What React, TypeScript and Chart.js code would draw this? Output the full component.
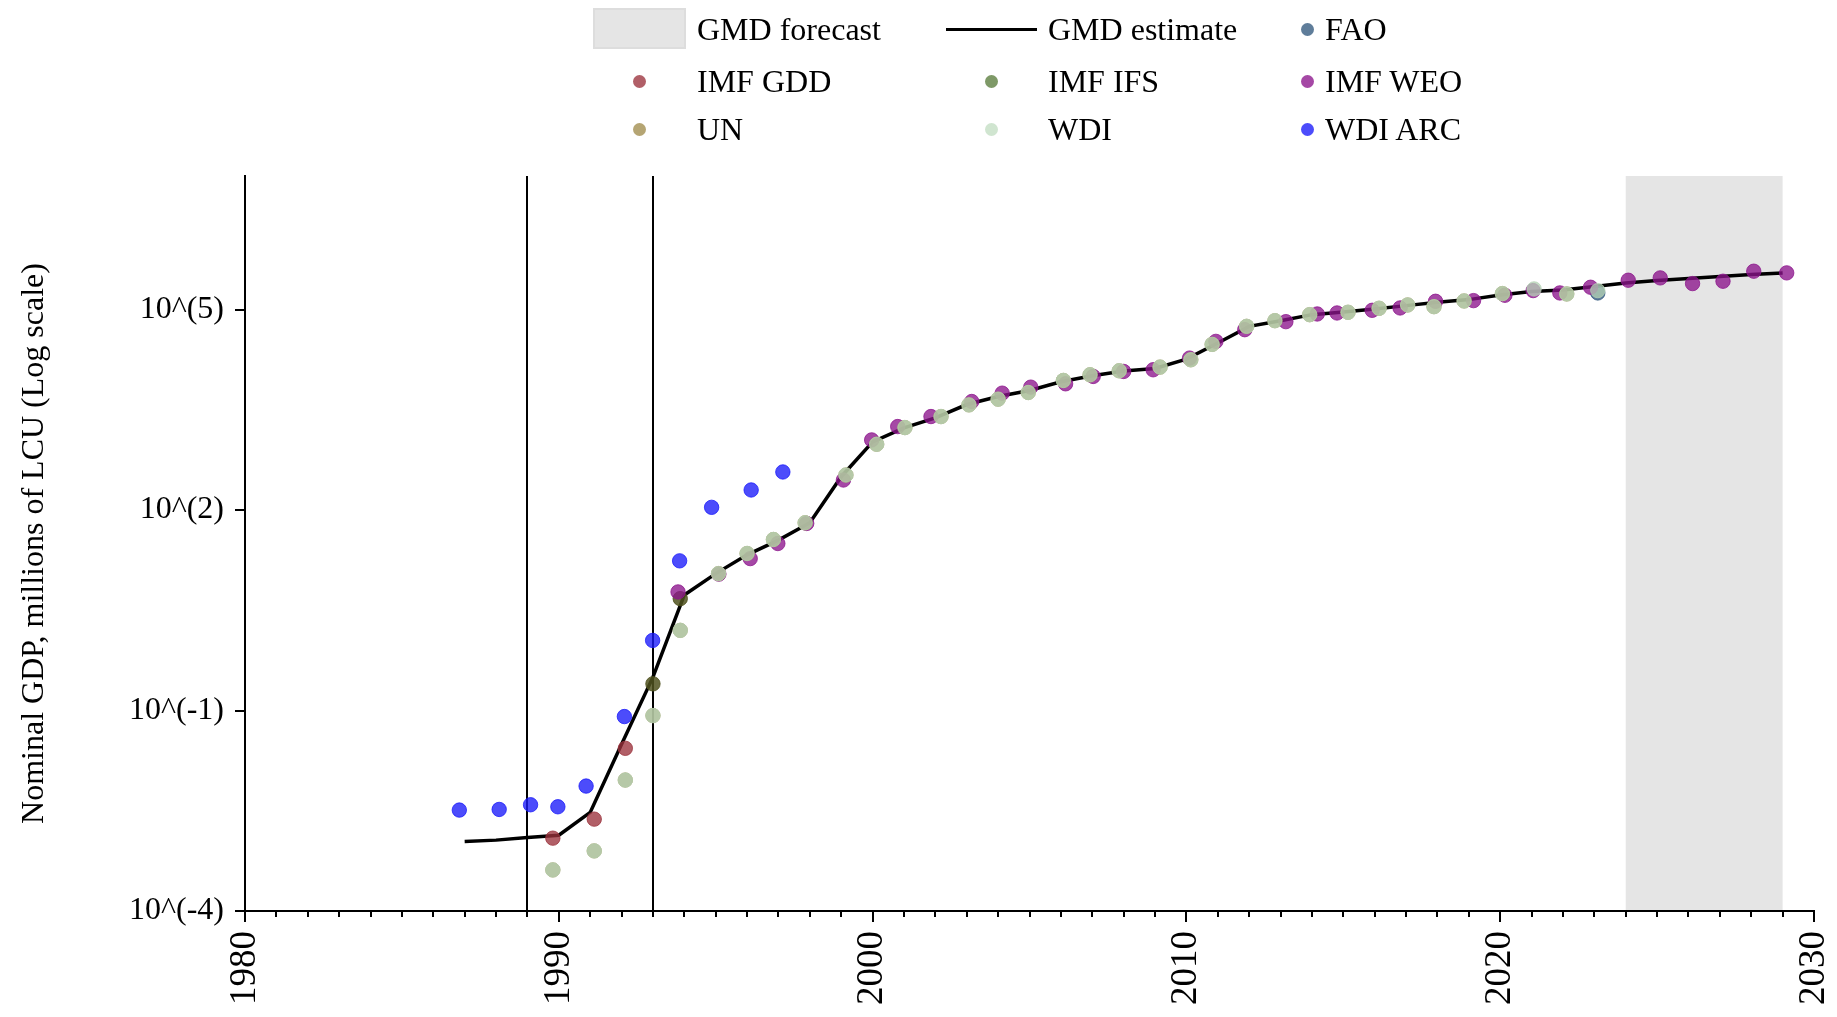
import React, { useEffect, useRef } from 'react';
import { Chart, registerables } from 'chart.js';

Chart.register(...registerables);

const FONT = '"Liberation Serif", "Times New Roman", Times, serif';

// ---- data ----
const gmdYears = [1987, 1988, 1989, 1990, 1991, 1992, 1993, 1994, 1995, 1996, 1997, 1998, 1999, 2000, 2001, 2002, 2003, 2004, 2005, 2006, 2007, 2008, 2009, 2010, 2011, 2012, 2013, 2014, 2015, 2016, 2017, 2018, 2019, 2020, 2021, 2022, 2023, 2024, 2025, 2026, 2027, 2028, 2029];
const gmdValues = [0.0011, 0.00115, 0.00126, 0.00136, 0.00299, 0.0313, 0.316, 5.37, 11.2, 21.4, 35.5, 64.6, 316, 1047, 1698, 2399, 3802, 5012, 6166, 8318, 10233, 12023, 13183, 18197, 31623, 56234, 68391, 84140, 92257, 102329, 114815, 128825, 141254, 165959, 186209, 197242, 221309, 251189, 272270, 291743, 312608, 334965, 354813];

const wdiYears = [1989.81, 1991.13, 1992.12, 1993.0, 1993.87, 1995.09, 1996.0, 1996.84, 1997.85, 1999.15, 2000.13, 2001.03, 2002.18, 2003.07, 2004.0, 2004.96, 2006.08, 2006.93, 2007.86, 2009.16, 2010.14, 2010.82, 2011.92, 2012.82, 2013.93, 2015.15, 2016.14, 2017.05, 2017.89, 2018.85, 2020.07, 2021.08, 2022.12, 2023.11];
const wdiValues = [0.000412, 0.000794, 0.00912, 0.0841, 1.585, 11.2, 22.4, 36.3, 64.6, 335, 966, 1718, 2512, 3758, 4571, 5754, 8710, 10593, 12162, 13804, 17783, 30200, 56234, 68391, 84140, 91201, 104713, 117490, 110917, 134896, 173780, 204174, 171791, 192752];

const unYears = [1989.81, 1991.13, 1992.12, 1993.0, 1993.87, 1995.09, 1996.0, 1996.84, 1997.85, 1999.15, 2000.13, 2001.03, 2002.18, 2003.07, 2004.0, 2004.96, 2006.08, 2006.93, 2007.86, 2009.16, 2010.14, 2010.82, 2011.92, 2012.82, 2013.93, 2015.15, 2016.14, 2017.05, 2017.89, 2018.85, 2020.07, 2022.12];
const unValues = [0.000412, 0.000794, 0.00912, 0.0841, 1.585, 11.2, 22.4, 36.3, 64.6, 335, 966, 1718, 2512, 3758, 4571, 5754, 8710, 10593, 12162, 13804, 17783, 30200, 56234, 68391, 84140, 91201, 104713, 117490, 110917, 134896, 173780, 171791];

const weoYears = [1993.8, 1995.1, 1996.1, 1996.98, 1997.9, 1999.07, 1999.97, 2000.8, 2001.86, 2003.16, 2004.13, 2005.04, 2006.15, 2007.03, 2008.0, 2008.94, 2010.1, 2010.94, 2011.86, 2013.17, 2014.17, 2014.8, 2015.92, 2016.81, 2017.94, 2019.15, 2020.15, 2021.05, 2021.9, 2022.88, 2024.08, 2025.1, 2026.13, 2027.1, 2028.08, 2029.13];
const weoValues = [5.96, 11.0, 18.8, 31.6, 63.1, 282, 1122, 1778, 2512, 4217, 5623, 6918, 7762, 10000, 11885, 12589, 18836, 33497, 50119, 66069, 86099, 89125, 97724, 105925, 133352, 136458, 164059, 192752, 177828, 216272, 275423, 298538, 245471, 266073, 375837, 354813];

const gddYears = [1989.81, 1991.13, 1992.12];
const gddValues = [0.00123, 0.00237, 0.0272];

const ifsYears = [1993.0, 1993.87];
const ifsValues = [0.251, 4.73];

const arcYears = [1986.83, 1988.1, 1989.1, 1989.97, 1990.87, 1992.09, 1992.99, 1993.85, 1994.87, 1996.13, 1997.14];
const arcValues = [0.00324, 0.00331, 0.00389, 0.00363, 0.00741, 0.0813, 1.12, 17.4, 110, 200, 372];

const faoYears = [2023.11];
const faoValues = [177828];

const forecastRange = [2024, 2029];
const markerYears = [1989, 1993];
const yTickValues = [1e-4, 1e-1, 1e2, 1e5];
const xTickYears = [1980, 1990, 2000, 2010, 2020, 2030];

// colours of the marks as drawn in the plot
const COLORS = {
  fao: 'rgba(50,88,126,0.78)',
  gdd: 'rgba(155,50,60,0.78)',
  ifs: 'rgba(80,82,30,0.85)',
  weo: 'rgba(140,20,140,0.78)',
  un: 'rgba(160,140,75,0.7)',
  wdi: 'rgba(180,210,180,0.75)',
  arc: 'rgba(25,25,250,0.78)',
};
// colours of the legend swatches
const LEGEND_COLORS = {
  fao: 'rgb(95,125,154)',
  gdd: 'rgb(177,95,103)',
  ifs: 'rgb(126,153,103)',
  weo: 'rgb(165,72,165)',
  un: 'rgb(181,165,115)',
  wdi: 'rgb(208,229,208)',
  arc: 'rgb(76,76,251)',
};

const pts = (xs: number[], ys: number[]) => xs.map((x, i) => ({ x, y: ys[i] }));

const scatterDs = (label: string, xs: number[], ys: number[], color: string, order: number) => ({
  type: 'scatter' as const,
  label,
  data: pts(xs, ys),
  backgroundColor: color,
  borderColor: color,
  borderWidth: 1,
  pointRadius: 7.2,
  pointHoverRadius: 7.2,
  order,
});

const legendItems = [
  { label: 'GMD forecast', kind: 'rect', color: '#e5e5e5', col: 0, row: 0 },
  { label: 'GMD estimate', kind: 'line', color: '#000', col: 1, row: 0 },
  { label: 'FAO', kind: 'dot', color: LEGEND_COLORS.fao, col: 2, row: 0 },
  { label: 'IMF GDD', kind: 'dot', color: LEGEND_COLORS.gdd, col: 0, row: 1 },
  { label: 'IMF IFS', kind: 'dot', color: LEGEND_COLORS.ifs, col: 1, row: 1 },
  { label: 'IMF WEO', kind: 'dot', color: LEGEND_COLORS.weo, col: 2, row: 1 },
  { label: 'UN', kind: 'dot', color: LEGEND_COLORS.un, col: 0, row: 2 },
  { label: 'WDI', kind: 'dot', color: LEGEND_COLORS.wdi, col: 1, row: 2 },
  { label: 'WDI ARC', kind: 'dot', color: LEGEND_COLORS.arc, col: 2, row: 2 },
];

const colSymbolX = [639, 991, 1307];
const colTextX = [697, 1048, 1325];
const rowY = [29, 81, 129];

const shadePlugin = {
  id: 'shade',
  beforeDraw(chart: any) {
    const { ctx, chartArea, scales } = chart;
    const x0 = scales.x.getPixelForValue(forecastRange[0]);
    const x1 = scales.x.getPixelForValue(forecastRange[1]);
    ctx.save();
    ctx.fillStyle = '#e5e5e5';
    ctx.fillRect(x0, chartArea.top, x1 - x0, chartArea.bottom - chartArea.top);
    ctx.restore();
  },
  beforeDatasetsDraw(chart: any) {
    const { ctx, chartArea, scales } = chart;
    ctx.save();
    ctx.strokeStyle = '#000';
    ctx.lineWidth = 2;
    markerYears.forEach((yr) => {
      const x = Math.round(scales.x.getPixelForValue(yr));
      ctx.beginPath();
      ctx.moveTo(x, chartArea.top);
      ctx.lineTo(x, chartArea.bottom);
      ctx.stroke();
    });
    ctx.restore();
  },
  afterDraw(chart: any) {
    const { ctx, chartArea, scales } = chart;
    ctx.save();
    ctx.strokeStyle = '#000';
    ctx.lineWidth = 2;
    for (let yr = 1980; yr <= 2030; yr++) {
      if (yr % 10 === 0) continue;
      const x = Math.round(scales.x.getPixelForValue(yr));
      ctx.beginPath();
      ctx.moveTo(x, chartArea.bottom);
      ctx.lineTo(x, chartArea.bottom + 6);
      ctx.stroke();
    }
    ctx.restore();
  },
};

export default function App() {
  const ref = useRef<HTMLCanvasElement | null>(null);

  useEffect(() => {
    document.body.style.margin = '0';
    const canvas = ref.current;
    if (!canvas) return;
    const chart = new Chart(canvas, {
      type: 'scatter',
      data: {
        datasets: [
          {
            type: 'line' as const,
            label: 'GMD estimate',
            data: pts(gmdYears, gmdValues),
            borderColor: '#000',
            borderWidth: 3.5,
            pointRadius: 0,
            fill: false,
            tension: 0,
            order: 10,
          } as any,
          scatterDs('FAO', faoYears, faoValues, COLORS.fao, 9),
          scatterDs('IMF GDD', gddYears, gddValues, COLORS.gdd, 8),
          scatterDs('IMF IFS', ifsYears, ifsValues, COLORS.ifs, 7),
          scatterDs('IMF WEO', weoYears, weoValues, COLORS.weo, 6),
          scatterDs('UN', unYears, unValues, COLORS.un, 5),
          scatterDs('WDI', wdiYears, wdiValues, COLORS.wdi, 4),
          scatterDs('WDI ARC', arcYears, arcValues, COLORS.arc, 3),
        ],
      },
      options: {
        animation: false,
        responsive: false,
        devicePixelRatio: 1,
        events: [],
        layout: { padding: { left: 0, right: 23, top: 176, bottom: 0 } },
        plugins: { legend: { display: false }, tooltip: { enabled: false } },
        scales: {
          x: {
            type: 'linear',
            min: 1980,
            max: 2030,
            afterBuildTicks: (s: any) => {
              s.ticks = xTickYears.map((v) => ({ value: v }));
            },
            afterFit: (s: any) => {
              s.height = 106;
              s.paddingLeft = 0;
              s.paddingRight = 0;
            },
            ticks: {
              autoSkip: false,
              maxRotation: 90,
              minRotation: 90,
              padding: 9,
              color: '#000',
              font: { family: FONT, size: 37 },
              callback: (v: any) => String(v),
            },
            grid: { display: true, drawOnChartArea: false, drawTicks: true, tickLength: 11, color: '#000', lineWidth: 2 },
            border: { display: true, color: '#000', width: 2 },
          },
          y: {
            type: 'logarithmic',
            min: 1e-4,
            max: 1e7,
            afterBuildTicks: (s: any) => {
              s.ticks = yTickValues.map((v) => ({ value: v }));
            },
            afterFit: (s: any) => {
              s.width = 245;
              s.paddingTop = 0;
              s.paddingBottom = 0;
            },
            ticks: {
              autoSkip: false,
              padding: 11,
              color: '#000',
              font: { family: FONT, size: 32 },
              callback: (v: any) => `10^(${Math.round(Math.log10(Number(v)))})`,
            },
            title: {
              display: true,
              text: 'Nominal GDP, millions of LCU (Log scale)',
              color: '#000',
              font: { family: FONT, size: 32 },
              padding: { top: 15, bottom: 0 },
            },
            grid: { display: true, drawOnChartArea: false, drawTicks: true, tickLength: 10, color: '#000', lineWidth: 2 },
            border: { display: true, color: '#000', width: 2 },
          },
        },
      } as any,
      plugins: [shadePlugin],
    });
    return () => chart.destroy();
  }, []);

  return (
    <div style={{ position: 'fixed', left: 0, top: 0, width: 1837, height: 1017, background: '#fff', overflow: 'hidden' }}>
      <canvas ref={ref} width={1837} height={1017} style={{ position: 'absolute', left: 0, top: 0, width: 1837, height: 1017 }} />
      {legendItems.map((it) => {
        const cy = rowY[it.row];
        const sx = colSymbolX[it.col];
        let sym: React.ReactNode = null;
        if (it.kind === 'rect') {
          sym = (
            <div style={{ position: 'absolute', left: 593, top: 8, width: 93, height: 41, background: '#e5e5e5', boxSizing: 'border-box', border: '2px solid #dddddd' }} />
          );
        } else if (it.kind === 'line') {
          sym = <div style={{ position: 'absolute', left: 946, top: cy - 1.5, width: 91, height: 3, background: '#000' }} />;
        } else {
          sym = (
            <div style={{ position: 'absolute', left: sx - 6.5, top: cy - 6.5, width: 13, height: 13, borderRadius: '50%', background: it.color }} />
          );
        }
        return (
          <React.Fragment key={it.label}>
            {sym}
            <div style={{ position: 'absolute', left: colTextX[it.col], top: cy - 20, height: 40, lineHeight: '40px', fontFamily: FONT, fontSize: 32, color: '#000', whiteSpace: 'nowrap' }}>
              {it.label}
            </div>
          </React.Fragment>
        );
      })}
    </div>
  );
}
